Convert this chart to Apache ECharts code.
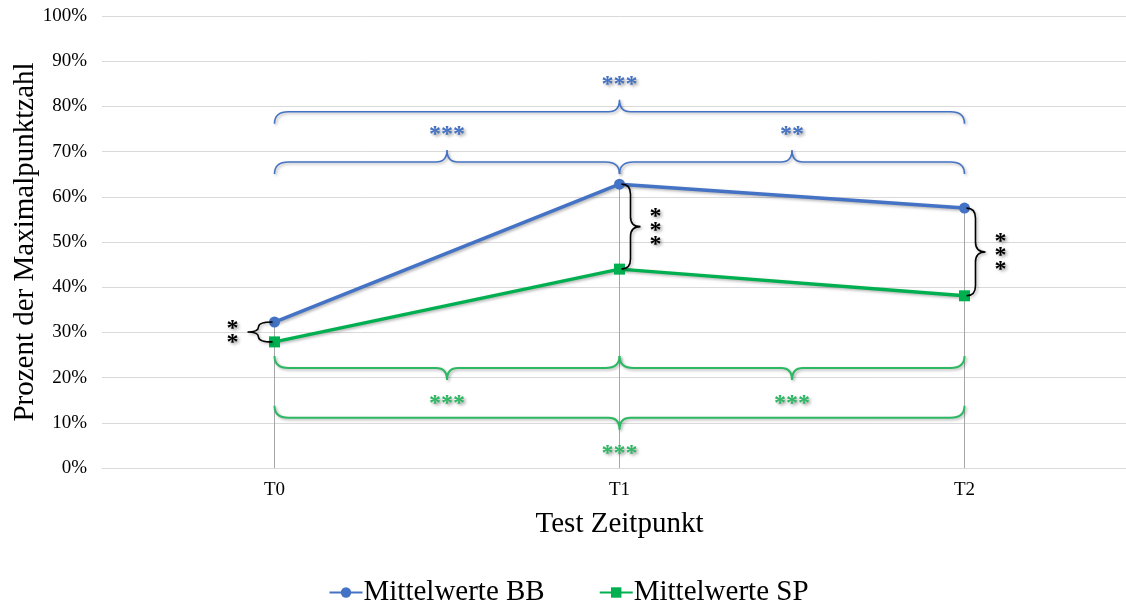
<!DOCTYPE html>
<html>
<head>
<meta charset="utf-8">
<script src="https://cdn.jsdelivr.net/npm/echarts@6/dist/echarts.min.js"></script>
<style>
html,body{margin:0;padding:0;background:#fff;overflow:hidden;width:1126px;height:605px;}
#chart{width:1137px;height:605px;}
</style>
</head>
<body>
<div id="chart"></div>
<script>
// ---- data ----
const categories = ['T0', 'T1', 'T2'];
const seriesNames = ['Mittelwerte BB', 'Mittelwerte SP'];
const bbValues = [32.3, 62.8, 57.5];
const spValues = [27.9, 44.0, 38.1];
// significance brackets across time points: [fromIndex, toIndex, level (%), stars]
const bbBrackets = [[0, 2, 78.8, '***'], [0, 1, 67.7, '***'], [1, 2, 67.7, '**']];
const spBrackets = [[0, 1, 22.1, '***'], [1, 2, 22.1, '***'], [0, 2, 11.1, '***']];
// BB vs SP at each time point: [index, stars, side (1 right, -1 left)]
const groupBrackets = [[0, '**', -1], [1, '***', 1], [2, '***', 1]];

const BLUE = '#4472C4', GREEN = '#00B050';
const FONT = 'Liberation Serif';

function hBracePath(x1, x2, y, s, h, r, rt) {
  const xm = (x1 + x2) / 2;
  return 'M' + x1 + ',' + (y - s * h) +
    ' Q' + x1 + ',' + y + ' ' + (x1 + r) + ',' + y +
    ' L' + (xm - rt) + ',' + y +
    ' Q' + xm + ',' + y + ' ' + xm + ',' + (y + s * h) +
    ' Q' + xm + ',' + y + ' ' + (xm + rt) + ',' + y +
    ' L' + (x2 - r) + ',' + y +
    ' Q' + x2 + ',' + y + ' ' + x2 + ',' + (y - s * h);
}
function vBracePath(x0, yTop, yBot, s, dx, tipDx) {
  const xv = x0 + s * dx, xt = x0 + s * tipDx, ym = (yTop + yBot) / 2;
  const r = Math.min(10, (yBot - yTop) / 4);
  const xs = x0 + s * 2;
  return 'M' + xs + ',' + yTop +
    ' Q' + xv + ',' + yTop + ' ' + xv + ',' + (yTop + r) +
    ' L' + xv + ',' + (ym - r) +
    ' Q' + xv + ',' + ym + ' ' + xt + ',' + ym +
    ' Q' + xv + ',' + ym + ' ' + xv + ',' + (ym + r) +
    ' L' + xv + ',' + (yBot - r) +
    ' Q' + xv + ',' + yBot + ' ' + xs + ',' + yBot;
}
const starStyle = (color) => ({
  fill: color, font: 'bold 24px "' + FONT + '"', align: 'center', verticalAlign: 'middle',
  textShadowColor: 'rgba(0,0,0,0.35)', textShadowBlur: 3, textShadowOffsetX: 2, textShadowOffsetY: 2
});
const lineShadow = {shadowColor: 'rgba(0,0,0,0.3)', shadowBlur: 3, shadowOffsetX: 1.5, shadowOffsetY: 1.5};

function hBracketSeries(name, list, color, s, lw, labelGap) {
  return {
    type: 'custom', name: name, z: 4, silent: true,
    data: list.map((_, i) => i),
    renderItem: function (params, api) {
      const b = list[api.value(0)];
      const p1 = api.coord([b[0], b[2]]);
      const p2 = api.coord([b[1], b[2]]);
      const y = p1[1];
      const xm = (p1[0] + p2[0]) / 2;
      return {
        type: 'group', children: [
          {type: 'path', shape: {pathData: hBracePath(p1[0], p2[0], y, s, 12, 14, 11)},
           style: Object.assign({fill: null, stroke: color, lineWidth: lw}, lineShadow)},
          {type: 'text', x: xm, y: y + s * labelGap + 4, style: Object.assign({text: b[3]}, starStyle(color))}
        ]
      };
    }
  };
}

const option = {
  animation: false,
  backgroundColor: '#fff',
  grid: {left: 102, top: 16, right: 0, height: 452, containLabel: false, outerBoundsMode: 'none'},
  legend: {
    data: seriesNames, left: 'center', top: 573, itemWidth: 33, itemHeight: 13, itemGap: 54,
    textStyle: {fontFamily: FONT, fontSize: 29, color: '#000', padding: [0, 0, 0, -4]}
  },
  xAxis: {
    type: 'category', data: categories, boundaryGap: true,
    name: 'Test Zeitpunkt', nameLocation: 'middle', nameGap: 42, nameMoveOverlap: false,
    nameTextStyle: {fontFamily: FONT, fontSize: 29, color: '#000'},
    axisLine: {show: true, lineStyle: {color: '#D9D9D9', width: 1}},
    axisTick: {show: false},
    axisLabel: {fontFamily: FONT, fontSize: 19, color: '#000', margin: 13},
    splitLine: {show: false}
  },
  yAxis: {
    type: 'value', min: 0, max: 100, interval: 10,
    name: 'Prozent der Maximalpunktzahl', nameLocation: 'middle', nameGap: 62, nameMoveOverlap: false,
    nameTextStyle: {fontFamily: FONT, fontSize: 29, color: '#000'},
    axisLine: {show: false}, axisTick: {show: false},
    axisLabel: {fontFamily: FONT, fontSize: 19, color: '#000', margin: 15, formatter: '{value}%'},
    splitLine: {lineStyle: {color: '#D9D9D9', width: 1}}
  },
  series: [
    {
      type: 'custom', name: 'drop', z: 1, silent: true,
      data: categories.map((_, i) => i),
      renderItem: function (params, api) {
        const i = api.value(0);
        const top = api.coord([i, Math.max(bbValues[i], spValues[i])]);
        const bot = api.coord([i, 0]);
        return {type: 'line', shape: {x1: top[0], y1: top[1], x2: bot[0], y2: bot[1]},
                style: {stroke: '#A6A6A6', lineWidth: 1}};
      }
    },
    {
      type: 'line', name: seriesNames[0], data: bbValues, z: 3,
      symbol: 'circle', symbolSize: 11,
      itemStyle: {color: BLUE},
      lineStyle: Object.assign({color: BLUE, width: 3.5}, lineShadow)
    },
    {
      type: 'line', name: seriesNames[1], data: spValues, z: 3,
      symbol: 'rect', symbolSize: 11,
      itemStyle: {color: GREEN},
      lineStyle: Object.assign({color: GREEN, width: 3.5}, lineShadow)
    },
    hBracketSeries('bbBrackets', bbBrackets, BLUE, -1, 1.6, 31),
    hBracketSeries('spBrackets', spBrackets, '#2DB863', 1, 2, 32),
    {
      type: 'custom', name: 'groupBrackets', z: 4, silent: true,
      data: groupBrackets.map((_, i) => i),
      renderItem: function (params, api) {
        const g = groupBrackets[api.value(0)];
        const i = g[0], s = g[2];
        const pTop = api.coord([i, bbValues[i]]);
        const pBot = api.coord([i, spValues[i]]);
        const x0 = pTop[0];
        const ym = (pTop[1] + pBot[1]) / 2;
        const dx = s < 0 ? 16 : 11, tip = s < 0 ? 27 : 21, gap = s < 0 ? 42 : 36;
        return {
          type: 'group', children: [
            {type: 'path', shape: {pathData: vBracePath(x0, pTop[1], pBot[1], s, dx, tip)},
             style: Object.assign({fill: null, stroke: '#000', lineWidth: 1.6}, lineShadow)},
            {type: 'text', x: x0 + s * gap, y: ym + 4,
             style: Object.assign({text: g[1].split('').join('\n'), lineHeight: 14}, starStyle('#000'))}
          ]
        };
      }
    }
  ]
};

const chart = echarts.init(document.getElementById('chart'), null, {renderer: 'canvas'});
chart.setOption(option);
</script>
</body>
</html>
